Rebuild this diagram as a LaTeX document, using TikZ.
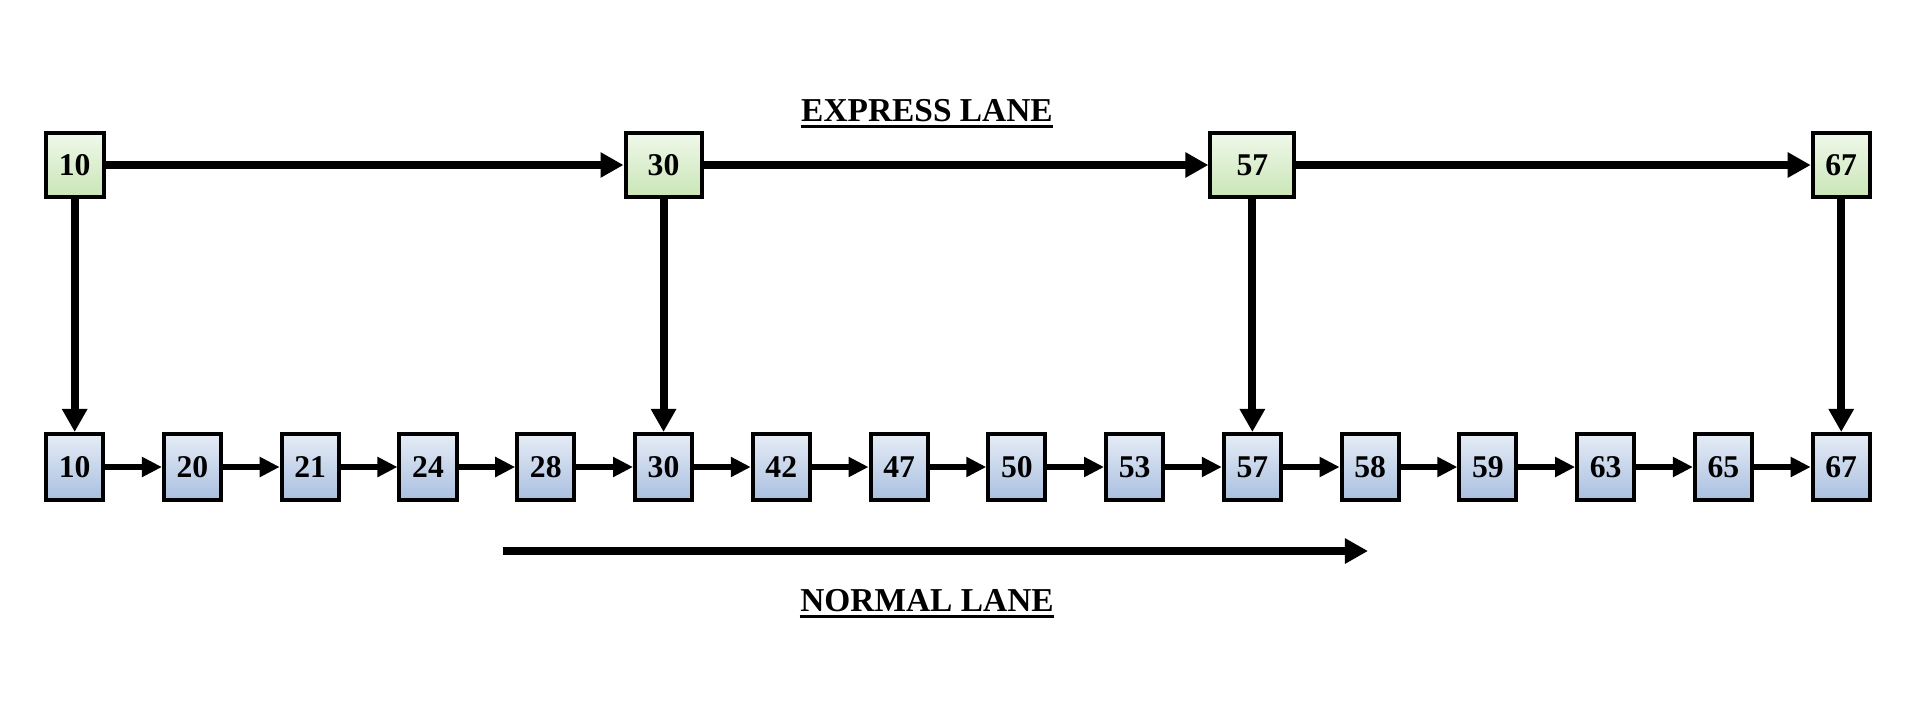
\documentclass[tikz,border=0pt]{standalone}
\usepackage{fontspec}
\setmainfont{Liberation Serif}
\usetikzlibrary{arrows.meta, positioning}

\definecolor{expTop}{HTML}{F0F8EA}
\definecolor{expBot}{HTML}{C9E6B6}
\definecolor{nrmTop}{HTML}{E6ECF6}
\definecolor{nrmBot}{HTML}{A9BFE0}

\tikzset{
  expbox/.style={draw, line width=0.04cm, top color=expTop, bottom color=expBot,
    minimum height=0.64cm, inner sep=0pt, font=\bfseries\fontsize{9}{9}\selectfont},
  nrmbox/.style={draw, line width=0.04cm, top color=nrmTop, bottom color=nrmBot,
    minimum width=0.57cm, minimum height=0.66cm, inner sep=0pt, font=\bfseries\fontsize{9}{9}\selectfont},
  bigarrow/.style={line width=0.08cm, -{Triangle[length=0.23cm, width=0.24cm]}},
  smallarrow/.style={line width=0.065cm, -{Triangle[length=0.2cm, width=0.19cm]}},
  lanelabel/.style={inner sep=0pt, font=\bfseries\fontsize{9.5}{10}\selectfont}
}

\begin{document}
\begin{tikzpicture}[x=0.01cm, y=-0.01cm]
    \useasboundingbox (0,0) rectangle (1920,702);

    % 下层 (normal lane)
    \node[nrmbox] (b10) at (74.7,467) {10};
    \foreach \v [remember=\v as \u (initially 10)] in {20,21,24,28,30,42,47,50,53,57,58,59,63,65,67} {
        \node[nrmbox, right=0.567cm of b\u] (b\v) {\v};
        \draw[smallarrow] (b\u) -- (b\v);
    }

    % 上层 (express lane)
    \node[expbox, minimum width=0.58cm] (t10) at (74.7,165) {10};
    \node[expbox, minimum width=0.76cm] (t30) at (b30 |- t10) {30};
    \node[expbox, minimum width=0.84cm] (t57) at (b57 |- t10) {57};
    \node[expbox, minimum width=0.57cm] (t67) at (b67 |- t10) {67};

    \draw[bigarrow] (t10) -- (t30);
    \draw[bigarrow] (t30) -- (t57);
    \draw[bigarrow] (t57) -- (t67);

    % 竖直箭头
    \foreach \k in {10,30,57,67}
        \draw[bigarrow] (t\k) -- (b\k);

    % 方向箭头
    \coordinate (nlA) at (503,551);
    \coordinate (nlB) at (1368,551);
    \draw[bigarrow] (nlA) -- (nlB);

    % 标题
    \node[lanelabel, anchor=base] (xlane) at (927,121) {EXPRESS LANE};
    \draw[line width=0.03cm] ([yshift=-0.05cm]xlane.base west) -- ([yshift=-0.05cm]xlane.base east);
    \node[lanelabel, anchor=base] (nlane) at (927,611) {NORMAL LANE};
    \draw[line width=0.03cm] ([yshift=-0.05cm]nlane.base west) -- ([yshift=-0.05cm]nlane.base east);
\end{tikzpicture}
\end{document}
